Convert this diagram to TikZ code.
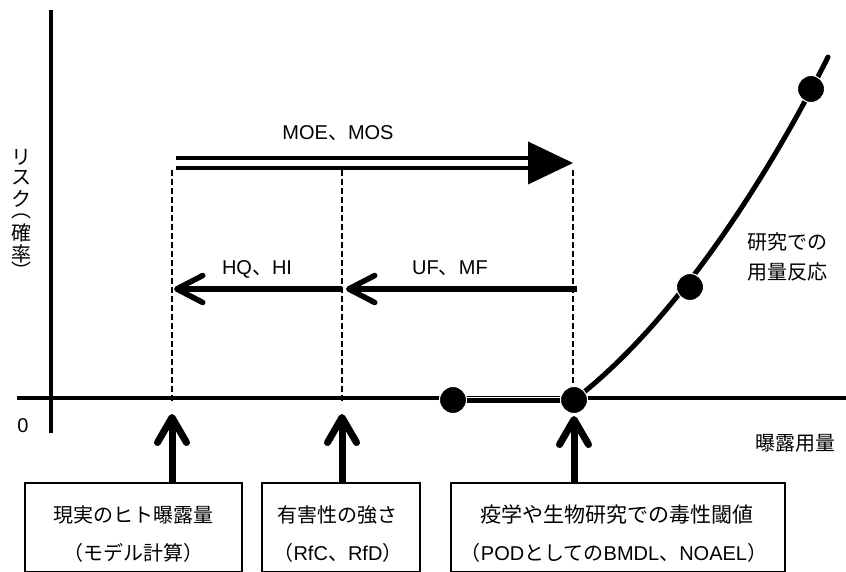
\documentclass[tikz,border=0pt]{standalone}
\usepackage{fontspec}
\setmainfont{Noto Sans CJK JP}
\newfontfamily\lat{Liberation Sans}
\usetikzlibrary{arrows.meta}
\tikzset{
  axisline/.style={line width=3.5pt},
  dashline/.style={line width=1.5pt, dash pattern=on 6pt off 3pt},
  harrow/.style={line width=5.5pt, -{Straight Barb[length=26pt,width=27pt,round]}},
  uarrow/.style={line width=7pt, -{Straight Barb[length=25pt,width=29pt,round]}},
  dot/.style={circle, fill=black, draw=white, line width=1pt, minimum size=27pt, inner sep=0pt},
  boxst/.style={draw, line width=2pt, inner sep=0pt},
  lbl/.style={inner sep=0pt, anchor=base},
  ych/.style={inner sep=0pt, anchor=center},
  curve/.style={line width=5pt, line cap=round}
}
\begin{document}
\begin{tikzpicture}[x=1pt, y=-1pt, font=\fontsize{20}{24}\selectfont]
\clip (0,0) rectangle (846,572);
\fill[white] (0,0) rectangle (846,572);
% axes
\coordinate (yt) at (51,10);
\coordinate (yb) at (51,433);
\coordinate (xl) at (17,398);
\coordinate (xr) at (846,398);
\draw[axisline] (yt) -- (yb);
\draw[axisline] (xl) -- (xr);
% dashed guides
\coordinate (d1t) at (172,170); \coordinate (d1b) at (172,404);
\coordinate (d2t) at (342,170); \coordinate (d2b) at (342,404);
\coordinate (d3t) at (573,170); \coordinate (d3b) at (573,398);
\draw[dashline] (d1t) -- (d1b);
\draw[dashline] (d2t) -- (d2b);
\draw[dashline] (d3t) -- (d3b);
% MOE arrow
\coordinate (m0) at (176,163);
\coordinate (m1) at (530,163);
\coordinate (mt) at (573,163);
\draw[line width=4.5pt, double=white, double distance=5.5pt] (m0) -- (m1);
\fill (528,141.5) -- (mt) -- (528,184.5) -- cycle;
\node[lbl] (moe) at (338,140) {{\lat MOE}、{\lat MOS}};
% HQ / UF arrows
\coordinate (h1) at (174,289);
\coordinate (h2) at (342,289);
\coordinate (h2b) at (346,289);
\coordinate (h3) at (577,289);
\draw[harrow] (h2) -- (h1);
\draw[harrow] (h3) -- (h2b);
\node[lbl] (hq) at (257,274) {{\lat HQ}、{\lat HI}};
\node[lbl] (uf) at (450,274) {{\lat UF}、{\lat MF}};
% dose response
\node[dot] (p1) at (453,400) {};
\node[dot] (p2) at (574,400) {};
\draw[line width=6pt] (p1.center) -- (p2.center);
\draw[white, line width=0.9pt] ([yshift=2.6pt]p1.center) -- ([yshift=2.6pt]p2.center);
\coordinate (cend) at (828,57);
\draw[curve] (p2.center) .. controls (677,321) and (770,173) .. (cend);
\node[dot] (p1b) at (453,400) {};
\node[dot] (p2b) at (574,400) {};
\node[dot] (p3) at (690,287) {};
\node[dot] (p4) at (811,89) {};
% labels
\node[lbl, anchor=base west] (r1) at (747,250) {研究での};
\node[lbl, anchor=base west] (r2) at (747,279) {用量反応};
\node[lbl] (xlab) at (795,450) {曝露用量};
\node[lbl] (zero) at (23,432) {\lat 0};
% y label (vertical, upright characters)
\foreach \c/\yy [count=\i] in {リ/157, ス/178, ク/199, ︵/216.5, 確/233, 率/254, ︶/270}
  \node[ych] (yl\i) at (22,\yy) {\c};
% boxes
\node[boxst, minimum width=217pt, minimum height=88.5pt] (b1) at (133.5,527.25) {};
\node[boxst, minimum width=158pt, minimum height=88.5pt] (b2) at (341,527.25) {};
\node[boxst, minimum width=334pt, minimum height=88.5pt] (b3) at (618,527.25) {};
\node[lbl] (t11) at (133,522) {現実のヒト曝露量};
\node[lbl] (t12) at (133,560) {（モデル計算）};
\node[lbl] (t21) at (337,522) {有害性の強さ};
\node[lbl] (t22) at (338,560) {（{\lat RfC}、{\lat RfD}）};
\node[lbl, font=\fontsize{21}{24}\selectfont] (t31) at (617,522) {疫学や生物研究での毒性閾値};
\node[lbl] (t32) at (614,560) {（{\lat POD}としての{\lat BMDL}、{\lat NOAEL}）};
% up arrows
\coordinate (u1) at (172,414);
\coordinate (u2) at (342,414);
\coordinate (u3) at (574,416);
\draw[uarrow] (u1 |- b1.north) -- (u1);
\draw[uarrow] (u2 |- b2.north) -- (u2);
\draw[uarrow] (u3 |- b3.north) -- (u3);
\end{tikzpicture}
\end{document}
